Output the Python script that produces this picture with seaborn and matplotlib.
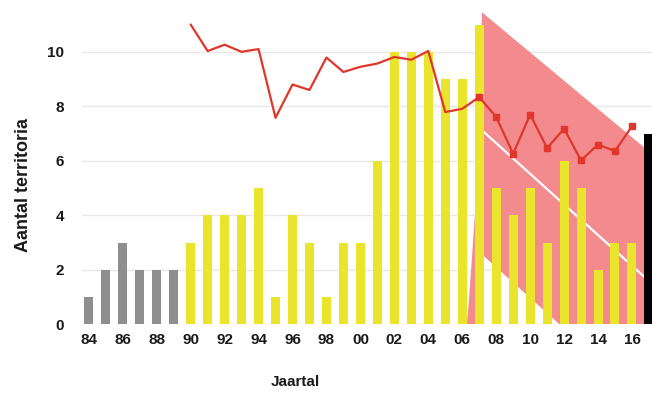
import numpy as np
import pandas as pd
import matplotlib
matplotlib.use('Agg')
import matplotlib.pyplot as plt
import seaborn as sns

# Territoria per jaar (1984-2017)
years = list(range(1984, 2018))
territories = [1, 2, 3, 2, 2, 2,
               3, 4, 4, 4, 5, 1, 4, 3, 1, 3,
               3, 6, 10, 10, 10, 9, 9, 11, 5, 4,
               5, 3, 6, 5, 2, 3, 3,
               7]
groups = ['old'] * 6 + ['new'] * 27 + ['last']

# Rode lijn (1990-2016)
line_years = list(range(1990, 2017))
line_values = [11.0, 10.03, 10.26, 10.0, 10.1, 7.58, 8.8, 8.6, 9.79, 9.26,
               9.45, 9.57, 9.81, 9.71, 10.03, 7.79, 7.91, 8.34, 7.61, 6.26,
               7.7, 6.47, 7.18, 6.02, 6.6, 6.36, 7.27]
marker_from = 2007

# Trend met betrouwbaarheidsband
trend_x = [2007.2, 2016.9]
trend_mid = [7.1, 1.65]
band_x = [2006.27, 2006.4, 2006.8, 2007.04, 2007.16, 2016.9, 2016.9, 2007.2, 2006.9]
band_y = [0.0, 0.9, 4.5, 8.2, 11.45, 6.4, -2.9, 2.55, 0.0]

df = pd.DataFrame({'Jaar': years, 'Aantal': territories, 'Groep': groups})
line_df = pd.DataFrame({'Jaar': line_years, 'Waarde': line_values})
marked = line_df[line_df['Jaar'] >= marker_from]

sns.set_style('white')
plt.rcParams['font.family'] = ['Liberation Sans', 'DejaVu Sans']

fig = plt.figure(figsize=(6.52, 4.01), dpi=100)
ax = fig.add_axes([0.1258, 0.1908, 0.8742, 0.8092])

ax.fill(band_x, band_y, color='#F28A8E', lw=0, zorder=1)
ax.plot(trend_x, trend_mid, color='white', lw=1.6, zorder=1.5)

palette = {'old': '#8E8E8E', 'new': '#EAE42C', 'last': '#000000'}
sns.barplot(data=df, x='Jaar', y='Aantal', hue='Groep', palette=palette,
            native_scale=True, dodge=False, width=0.53, legend=False,
            saturation=1, linewidth=0, edgecolor='none', ax=ax, zorder=2)

sns.lineplot(data=line_df, x='Jaar', y='Waarde', color='#E0362B', lw=1.6,
             ax=ax, zorder=3)
ax.plot(marked['Jaar'], marked['Waarde'], ls='none', marker='s', ms=5,
        color='#E0362B', zorder=3)

ax.set_xlim(1983.6, 2017.18)
ax.set_ylim(0, 11.9)
ax.set_yticks([0, 2, 4, 6, 8, 10])
xt = list(range(1984, 2017, 2))
ax.set_xticks(xt)
ax.set_xticklabels([f'{y % 100:02d}' for y in xt])
ax.yaxis.grid(True, color='#E8E8E8', lw=1, zorder=0)
ax.set_axisbelow(True)
for s in ax.spines.values():
    s.set_visible(False)
ax.tick_params(axis='both', length=0, labelsize=11, labelcolor='#1A1A1A')
ax.tick_params(axis='y', pad=13)
ax.tick_params(axis='x', pad=6)
for t in ax.get_xticklabels() + ax.get_yticklabels():
    t.set_fontweight('bold')

ax.set_xlabel('Jaartal', fontsize=11, fontweight='bold', color='#1A1A1A')
ax.set_ylabel('Aantal territoria', fontsize=13, fontweight='bold', color='#1A1A1A')
ax.xaxis.set_label_coords(0.374, -0.156)
ax.yaxis.set_label_coords(-0.088, 0.43)

fig.savefig('out.png', dpi=100)
